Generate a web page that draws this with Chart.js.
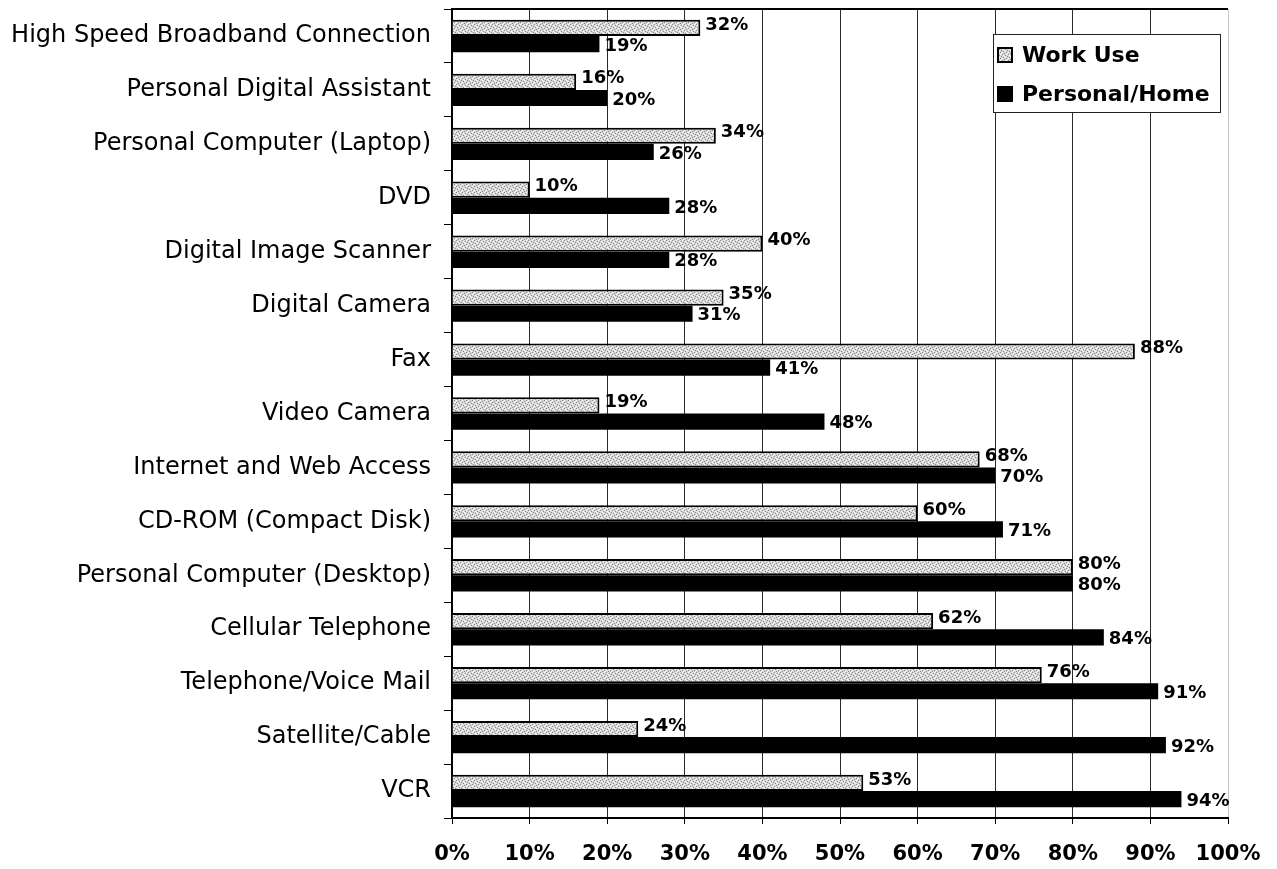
<!DOCTYPE html>
<html>
<head>
<meta charset="utf-8">
<script src="https://cdn.jsdelivr.net/npm/chart.js@4.4.1/dist/chart.umd.min.js"></script>
<style>
html,body{margin:0;padding:0;background:#fff;}
#wrap{width:1277px;height:869px;position:relative;}
</style>
</head>
<body>
<div id="wrap"><canvas id="c"></canvas></div>
<script>
const categories = [
  "High Speed Broadband Connection",
  "Personal Digital Assistant",
  "Personal Computer (Laptop)",
  "DVD",
  "Digital Image Scanner",
  "Digital Camera",
  "Fax",
  "Video Camera",
  "Internet and Web Access",
  "CD-ROM (Compact Disk)",
  "Personal Computer (Desktop)",
  "Cellular Telephone",
  "Telephone/Voice Mail",
  "Satellite/Cable",
  "VCR"
];
const workUse = [32, 16, 34, 10, 40, 35, 88, 19, 68, 60, 80, 62, 76, 24, 53];
const personalHome = [19, 20, 26, 28, 28, 31, 41, 48, 70, 71, 80, 84, 91, 92, 94];
const seriesNames = ["Work Use", "Personal/Home"];
const xTicks = [0, 10, 20, 30, 40, 50, 60, 70, 80, 90, 100];

function makePattern() {
  const c = document.createElement('canvas');
  c.width = 6; c.height = 6;
  const g = c.getContext('2d');
  g.fillStyle = '#d6d6d6';
  g.fillRect(0, 0, 6, 6);
  g.fillStyle = '#8a8a8a';
  [[0,0],[3,1],[1,3],[4,4],[2,5],[5,2]].forEach(p => g.fillRect(p[0], p[1], 1, 1));
  g.fillStyle = '#ffffff';
  [[1,1],[4,0],[0,4],[3,3],[5,5],[2,2]].forEach(p => g.fillRect(p[0], p[1], 1, 1));
  return g.createPattern(c, 'repeat');
}
const workFill = makePattern();

const labelPlugin = {
  id: 'valueLabels',
  afterDatasetsDraw(chart) {
    const ctx = chart.ctx;
    ctx.save();
    ctx.font = 'bold 18px "DejaVu Sans"';
    ctx.fillStyle = '#000';
    ctx.textAlign = 'left';
    ctx.textBaseline = 'middle';
    chart.data.datasets.forEach((ds, di) => {
      const meta = chart.getDatasetMeta(di);
      meta.data.forEach((el, i) => {
        const dy = di === 0 ? -3 : 2;
        ctx.fillText(ds.data[i] + '%', el.x + 5, el.y + dy);
      });
    });
    ctx.restore();
  }
};

const framePlugin = {
  id: 'frameAndLegend',
  afterDraw(chart) {
    const ctx = chart.ctx;
    const a = chart.chartArea;
    ctx.save();
    ctx.strokeStyle = '#000';
    ctx.lineWidth = 2;
    ctx.beginPath();
    ctx.moveTo(a.left, a.top);
    ctx.lineTo(a.right, a.top);
    ctx.stroke();
    // legend box
    const bx = 993, by = 34, bw = 227, bh = 78;
    ctx.fillStyle = '#fff';
    ctx.fillRect(bx, by, bw, bh);
    ctx.lineWidth = 1;
    ctx.strokeStyle = '#222';
    ctx.strokeRect(bx + 0.5, by + 0.5, bw, bh);
    const ds = chart.data.datasets;
    const rows = [55, 94];
    ctx.font = 'bold 22px "DejaVu Sans"';
    ctx.textBaseline = 'middle';
    ctx.textAlign = 'left';
    ds.forEach((d, i) => {
      const y = rows[i];
      if (i === 0) {
        ctx.fillStyle = workFill;
        ctx.fillRect(998, y - 7, 14, 14);
        ctx.lineWidth = 2;
        ctx.strokeStyle = '#000';
        ctx.strokeRect(998, y - 7, 14, 14);
      } else {
        ctx.fillStyle = '#000';
        ctx.fillRect(997, y - 8, 16, 16);
      }
      ctx.fillStyle = '#000';
      ctx.fillText(d.label, 1022, y + 1);
    });
    ctx.restore();
  }
};

new Chart(document.getElementById('c'), {
  type: 'bar',
  data: {
    labels: categories,
    datasets: [
      {
        label: seriesNames[0],
        data: workUse,
        backgroundColor: workFill,
        borderColor: '#000',
        borderWidth: 2,
        borderSkipped: 'start',
        categoryPercentage: 0.6,
        barPercentage: 1.0
      },
      {
        label: seriesNames[1],
        data: personalHome,
        backgroundColor: '#000',
        borderColor: '#000',
        borderWidth: 0,
        categoryPercentage: 0.6,
        barPercentage: 1.0
      }
    ]
  },
  options: {
    indexAxis: 'y',
    responsive: true,
    maintainAspectRatio: false,
    animation: false,
    layout: { padding: { left: 0, top: 9, right: 49, bottom: 0 } },
    plugins: {
      legend: { display: false },
      tooltip: { enabled: false }
    },
    scales: {
      x: {
        type: 'linear',
        min: 0,
        max: 100,
        afterFit(scale) {
          scale.height = 51;
          scale.paddingLeft = 0; scale.paddingRight = 0;
        },
        afterBuildTicks(scale) { scale.ticks = xTicks.map(v => ({ value: v })); },
        ticks: {
          callback: v => v + '%',
          font: { family: '"DejaVu Sans"', size: 21, weight: 'bold' },
          color: '#000',
          padding: 18,
          maxRotation: 0,
          autoSkip: false
        },
        grid: {
          color: ctx => (ctx.index === 10 ? '#c8c8c8' : '#2a2a2a'),
          lineWidth: 1,
          tickLength: 6,
          tickColor: '#000'
        },
        border: { display: true, color: '#000', width: 2 }
      },
      y: {
        afterFit(scale) {
          scale.width = 452;
          scale.paddingTop = 0; scale.paddingBottom = 0;
        },
        ticks: {
          font: { family: '"DejaVu Sans"', size: 24 },
          color: '#000',
          padding: 13,
          autoSkip: false
        },
        grid: {
          drawOnChartArea: false,
          tickLength: 8,
          color: '#000',
          offset: true
        },
        border: { display: true, color: '#000', width: 2 }
      }
    }
  },
  plugins: [labelPlugin, framePlugin]
});
</script>
</body>
</html>
